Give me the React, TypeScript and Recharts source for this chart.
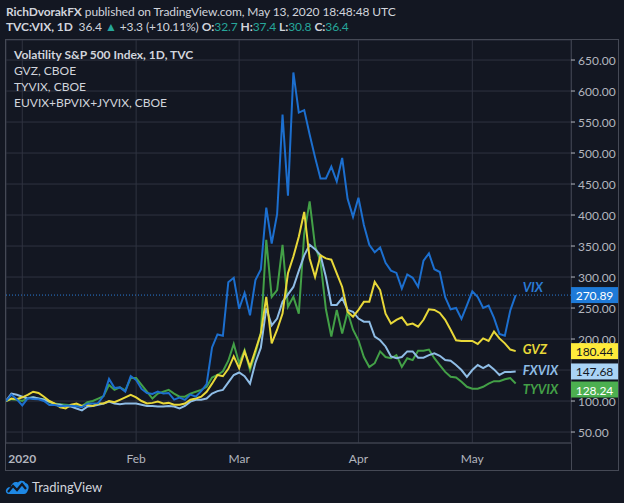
import React from 'react';
import { LineChart, Line, XAxis, YAxis, CartesianGrid, ReferenceLine } from 'recharts';

// trading days, rebased to 100 on the first bar
const dates = [
  '2019-12-27', '2019-12-30', '2019-12-31',
  '2020-01-02', '2020-01-03', '2020-01-06', '2020-01-07', '2020-01-08', '2020-01-09', '2020-01-10',
  '2020-01-13', '2020-01-14', '2020-01-15', '2020-01-16', '2020-01-17', '2020-01-21', '2020-01-22',
  '2020-01-23', '2020-01-24', '2020-01-27', '2020-01-28', '2020-01-29', '2020-01-30', '2020-01-31',
  '2020-02-03', '2020-02-04', '2020-02-05', '2020-02-06', '2020-02-07', '2020-02-10', '2020-02-11',
  '2020-02-12', '2020-02-13', '2020-02-14', '2020-02-18', '2020-02-19', '2020-02-20', '2020-02-21',
  '2020-02-24', '2020-02-25', '2020-02-26', '2020-02-27', '2020-02-28',
  '2020-03-02', '2020-03-03', '2020-03-04', '2020-03-05', '2020-03-06', '2020-03-09', '2020-03-10',
  '2020-03-11', '2020-03-12', '2020-03-13', '2020-03-16', '2020-03-17', '2020-03-18', '2020-03-19',
  '2020-03-20', '2020-03-23', '2020-03-24', '2020-03-25', '2020-03-26', '2020-03-27', '2020-03-30',
  '2020-03-31',
  '2020-04-01', '2020-04-02', '2020-04-03', '2020-04-06', '2020-04-07', '2020-04-08', '2020-04-09',
  '2020-04-13', '2020-04-14', '2020-04-15', '2020-04-16', '2020-04-17', '2020-04-20', '2020-04-21',
  '2020-04-22', '2020-04-23', '2020-04-24', '2020-04-27', '2020-04-28', '2020-04-29', '2020-04-30',
  '2020-05-01', '2020-05-04', '2020-05-05', '2020-05-06', '2020-05-07', '2020-05-08', '2020-05-11',
  '2020-05-12', '2020-05-13',
];

const vix = [
  100, 110.4, 102.6,
  92.9, 104.4, 103.1, 102.7, 100.1, 93.4, 93.5, 91.7, 92.3, 92.5, 91.7, 90.1, 95.7, 96.1, 96.6, 108.4,
  135.7, 121.2, 122.0, 115.3, 140.3,
  133.8, 119.5, 112.8, 111.4, 115.2, 112.0, 113.0, 102.3, 105.4, 101.9, 110.4, 107.1, 115.9, 127.2,
  186.4, 207.4, 205.2, 291.6, 298.7,
  248.8, 274.2, 238.2, 295.0, 312.3, 412, 354, 401.3, 562.0, 431, 630, 565.2, 569.2, 530, 493, 459,
  459, 478, 454, 492, 426, 397,
  428, 384, 352, 340, 347.7, 322.8, 310.3, 306.6, 281.2, 304.1, 298.7, 284.1, 326.4, 338.1, 312.6,
  308.1, 267.5, 247.9, 250.0, 232.5, 254.3,
  276.9, 267.8, 250.3, 254.1, 234.1, 208.3, 205.3, 246.0, 270.89,
];

const gvz = [
  100, 104, 103,
  106, 110, 115, 113, 107, 100, 96, 90, 88, 94, 96, 92, 94, 92, 96, 96, 100, 98, 102, 106, 110,
  106, 100, 96, 97, 99, 96, 97, 94, 94, 96, 102, 104, 107, 115, 128, 142, 140, 152, 172,
  153, 180, 155, 182, 209, 268, 193, 215, 241, 306, 333, 365, 405, 330, 300, 335, 330, 328, 306,
  284, 244, 236,
  247, 260, 260, 292, 279, 241, 225, 231, 235, 223, 225, 220, 231, 248, 247, 242, 231, 215, 198,
  197, 197,
  197, 192, 201, 197, 212, 201, 193, 183, 180.44,
];

const tyvix = [
  100, 103, 102,
  100, 105, 106, 104, 103, 98, 96, 95, 94, 93, 93, 92, 98, 100, 104, 108, 126, 118, 122, 117, 137,
  137, 126, 115, 104, 112, 115, 118, 112, 107, 107, 112, 115, 118, 123, 138, 142, 148, 165, 192,
  161, 182, 150, 177, 210, 360, 268, 279, 352, 252, 268, 241, 370, 422, 350, 325, 248, 204, 247,
  209, 244, 215,
  198, 171, 155, 161, 180, 171, 169, 174, 155, 169, 166, 181, 181, 183, 169, 158, 147, 139, 138,
  131, 123,
  120, 120, 123, 128, 132, 132, 135, 137, 128.24,
];

const fxvix = [
  100, 112, 110,
  107, 104, 106, 104, 102, 99, 95, 94, 91, 91, 88, 85, 91, 92, 94, 96, 99, 96, 95, 96, 96,
  96, 94, 92, 92, 91, 91, 92, 91, 88, 92, 99, 102, 102, 104, 112, 116, 118, 130, 142,
  146, 140, 128, 162, 186, 250, 222, 233, 260, 272, 284, 310, 335, 352, 345, 335, 300, 255, 255,
  266, 247, 244,
  233, 228, 228, 204, 198, 188, 172, 169, 171, 180, 180, 170, 170, 174, 177, 173, 166, 165, 158,
  150, 139,
  150, 158, 153, 158, 151, 142, 147, 147, 147.68,
];

const monthTicks = ['2020-01-02', '2020-02-03', '2020-03-02', '2020-04-01', '2020-05-01'];
const monthLabels = ['2020', 'Feb', 'Mar', 'Apr', 'May'];
const priceTicks = [50, 100, 150, 200, 250, 300, 350, 400, 450, 500, 550, 600, 650];
const legendLines = [
  'Volatility S&P 500 Index, 1D, TVC',
  'GVZ, CBOE',
  'TYVIX, CBOE',
  'EUVIX+BPVIX+JYVIX, CBOE',
];

const data = dates.map((d, i) => ({
  i,
  date: d,
  VIX: vix[i],
  GVZ: gvz[i],
  TYVIX: tyvix[i],
  FXVIX: fxvix[i],
}));

const BG = '#131722';
const TEXT = '#b2b5be';
const GRID = '#2f3340';
const FRAME = '#454955';
const FONT = 'Lato, "Noto Sans", sans-serif';
const CHART_W = 612;
const CHART_H = 430;
const AXIS_W = 47;
const PLOT_W = CHART_W - AXIS_W;

const tickIdx = monthTicks.map((d) => dates.indexOf(d));
const lastValues = [vix, gvz, tyvix, fxvix].map((s) => s[s.length - 1]);

function endLabel(
  name: string,
  color: string,
  tagBg: string,
  tagFg: string,
  nameDy: number,
  tagDy: number
) {
  return (props: any) => {
    const { x, y, index, value } = props;
    if (index !== dates.length - 1) return null;
    return (
      <g>
        <text
          x={x + 7}
          y={y + nameDy}
          fill={color}
          fontSize={13}
          fontWeight={700}
          fontStyle="italic"
          fontFamily={FONT}
          dominantBaseline="central"
        >
          {name}
        </text>
        <rect x={PLOT_W} y={y + tagDy - 8} width={AXIS_W} height={16} fill={tagBg} />
        <text
          x={PLOT_W + AXIS_W / 2}
          y={y + tagDy + 0.5}
          fill={tagFg}
          fontSize={12}
          fontFamily={FONT}
          textAnchor="middle"
          dominantBaseline="central"
        >
          {Number(value).toFixed(2)}
        </text>
      </g>
    );
  };
}

const XTick = (props: any) => {
  const { x, y, payload } = props;
  const k = tickIdx.indexOf(payload.value);
  return (
    <text
      x={x}
      y={y + 7}
      fill={TEXT}
      fontSize={12}
      fontWeight={k === 0 ? 700 : 400}
      fontFamily={FONT}
      textAnchor="middle"
      dominantBaseline="central"
    >
      {monthLabels[k]}
    </text>
  );
};

// price labels hidden under a last-value tag are not drawn
const YTick = (props: any) => {
  const { x, y, payload } = props;
  const covered = lastValues.some((v) => Math.abs(v - payload.value) < 10);
  if (covered) return <g />;
  return (
    <g>
      <line x1={x - 7} x2={x - 3} y1={y} y2={y} stroke={TEXT} />
      <text x={x} y={y} fill={TEXT} fontSize={12} fontFamily={FONT} dominantBaseline="central">
        {payload.value.toFixed(2)}
      </text>
    </g>
  );
};

const Logo = () => (
  <svg width={24} height={16} viewBox="0 0 24 16">
    <path
      d="M4 15 C1 15 0 12 1.5 10 C2.5 8 4.5 8 5.5 8.5 C6.5 4 10 2 13 3.5 C15 1 19 1 20.5 4 C23.5 4.5 24.5 8 23 11 C22 13.5 21 15 19 15 Z"
      fill="#1e88e5"
    />
    <polyline points="3,13 8,7 12,11 17,5 21,10" fill="none" stroke={BG} strokeWidth={2.2} />
  </svg>
);

const teal = { color: '#26a69a' };

export default function App() {
  return (
    <div
      style={{
        position: 'absolute',
        left: 0,
        top: 0,
        width: 624,
        height: 503,
        background: BG,
        fontFamily: FONT,
        overflow: 'hidden',
      }}
    >
      <div
        style={{
          position: 'absolute',
          left: 6,
          top: 4,
          fontSize: 12,
          letterSpacing: -0.1,
          color: '#d1d4dc',
          whiteSpace: 'nowrap',
        }}
      >
        <b>RichDvorakFX</b> published on TradingView.com, May 13, 2020 18:48:48 UTC
      </div>
      <div
        style={{
          position: 'absolute',
          left: 6,
          top: 19,
          fontSize: 12,
          letterSpacing: -0.1,
          color: '#d1d4dc',
          whiteSpace: 'nowrap',
        }}
      >
        <b>TVC:VIX, 1D</b>&nbsp; 36.4 <span style={teal}>▲</span> +3.3 (+10.11%) <b>O:</b>
        <span style={teal}>32.7</span> <b>H:</b>
        <span style={teal}>37.4</span> <b>L:</b>
        <span style={teal}>30.8</span> <b>C:</b>
        <span style={teal}>36.4</span>
      </div>

      <div
        style={{
          position: 'absolute',
          left: 5,
          top: 39,
          width: CHART_W,
          height: CHART_H,
          border: `1px solid ${FRAME}`,
        }}
      />
      <div style={{ position: 'absolute', left: 6 + PLOT_W, top: 40, width: 1, height: CHART_H, background: FRAME }} />

      <div style={{ position: 'absolute', left: 6, top: 40 }}>
        <LineChart width={CHART_W} height={CHART_H} data={data} margin={{ top: 0, right: 0, bottom: 0, left: 0 }}>
          <CartesianGrid stroke={GRID} strokeWidth={1} />
          <XAxis
            type="number"
            dataKey="i"
            domain={[0, 104.2]}
            ticks={tickIdx}
            height={27}
            axisLine={{ stroke: FRAME }}
            tickLine={false}
            tick={<XTick />}
            allowDataOverflow
          />
          <YAxis
            orientation="right"
            type="number"
            domain={[32.3, 682.3]}
            ticks={priceTicks}
            width={AXIS_W}
            axisLine={false}
            tickLine={false}
            tickSize={4}
            tickMargin={3}
            tick={<YTick />}
            allowDataOverflow
          />
          <ReferenceLine y={vix[vix.length - 1]} stroke="#2a7bd6" strokeDasharray="1 2" />
          <Line
            dataKey="TYVIX"
            stroke="#43a047"
            strokeWidth={2}
            dot={false}
            isAnimationActive={false}
            label={endLabel('TYVIX', '#43a047', '#4caf50', '#ffffff', 5, 6)}
          />
          <Line
            dataKey="FXVIX"
            stroke="#8fbde6"
            strokeWidth={2}
            dot={false}
            isAnimationActive={false}
            label={endLabel('FXVIX', '#8fbde6', '#a9d3f5', '#131722', -1, 0)}
          />
          <Line
            dataKey="GVZ"
            stroke="#e8d839"
            strokeWidth={2}
            dot={false}
            isAnimationActive={false}
            label={endLabel('GVZ', '#e8d839', '#ffeb3b', '#131722', -2, 0)}
          />
          <Line
            dataKey="VIX"
            stroke="#1c6fcf"
            strokeWidth={2}
            dot={false}
            isAnimationActive={false}
            label={endLabel('VIX', '#2a7bd6', '#1e7ad8', '#ffffff', -8, 0)}
          />
        </LineChart>
      </div>

      <div style={{ position: 'absolute', left: 14, top: 47, fontSize: 12, color: '#d1d4dc', lineHeight: '16px' }}>
        {legendLines.map((t, k) => (
          <div key={t} style={{ fontWeight: k === 0 ? 700 : 400 }}>
            {t}
          </div>
        ))}
      </div>

      <div style={{ position: 'absolute', left: 5, top: 479, display: 'flex', alignItems: 'center' }}>
        <Logo />
        <span style={{ marginLeft: 3, fontSize: 13, color: '#d1d4dc' }}>TradingView</span>
      </div>
    </div>
  );
}
